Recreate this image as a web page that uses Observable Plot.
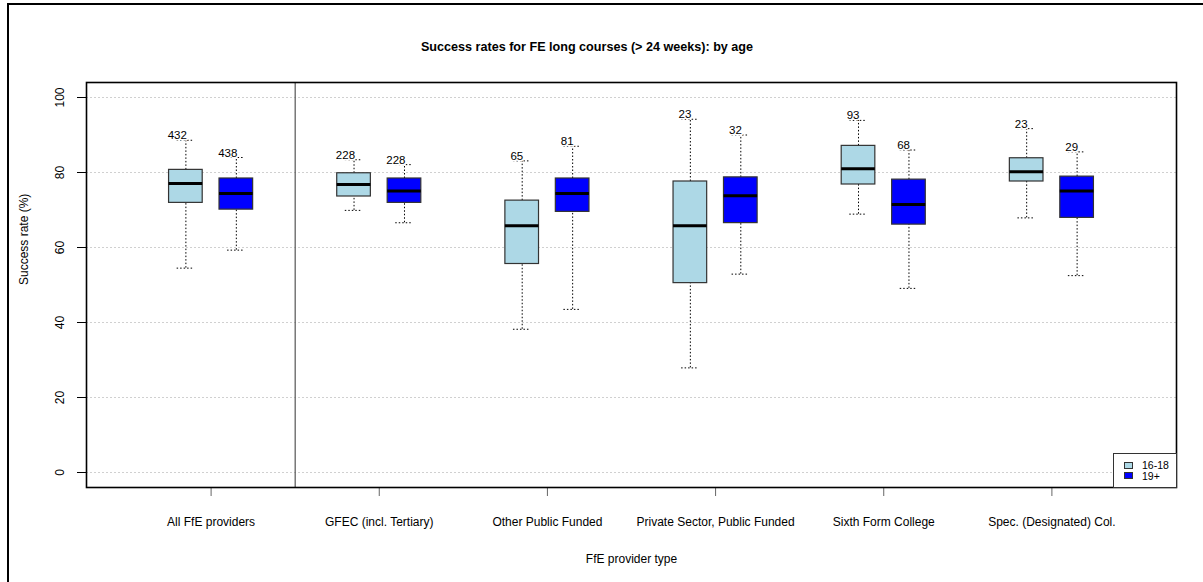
<!DOCTYPE html>
<html>
<head>
<meta charset="utf-8">
<script src="https://cdn.jsdelivr.net/npm/d3@7"></script>
<script src="https://cdn.jsdelivr.net/npm/@observablehq/plot@0.6"></script>
<style>
  html, body { margin: 0; padding: 0; background: #fff; }
  #wrap { position: relative; width: 1203px; height: 582px; overflow: hidden; font-family: "Liberation Sans", Arial, sans-serif; }
  #border { position: absolute; left: 7px; top: 3px; width: 1300px; height: 700px; border-left: 2px solid #000; border-top: 2px solid #000; pointer-events: none; }
  #legend { position: absolute; left: 1113px; top: 453px; width: 62px; height: 33px; border: 1px solid #333; background: #fff; font-size: 10.5px; }
  #legend .row { position: absolute; left: 10px; height: 10px; line-height: 10px; white-space: nowrap; }
  #legend .sw { display: inline-block; width: 7px; height: 5px; border: 1px solid #333; vertical-align: middle; margin-right: 9px; position: relative; top: -1px; }
</style>
</head>
<body>
<div id="wrap"><div id="chart"></div><div id="border"></div><div id="legend"></div></div>
<script>
const title = "Success rates for FE long courses (> 24 weeks): by age";
const xTitle = "FfE provider type";
const yTitle = "Success rate (%)";
const categories = ["All FfE providers", "GFEC (incl. Tertiary)", "Other Public Funded", "Private Sector, Public Funded", "Sixth Form College", "Spec. (Designated) Col."];
const ages = ["16-18", "19+"];
const ageColors = ["#ADD8E6", "#0000FF"];
const yTicks = [0, 20, 40, 60, 80, 100];

// 16-18
const n16   = [432, 228, 65, 23, 93, 23];
const lo16  = [54.5, 69.9, 38.2, 27.9, 68.9, 67.9];
const q1_16 = [71.9, 73.6, 55.6, 50.5, 76.8, 77.6];
const med16 = [77.1, 76.8, 65.8, 65.8, 81.0, 80.2];
const q3_16 = [80.7, 79.8, 72.5, 77.6, 87.1, 83.8];
const hi16  = [88.6, 83.4, 83.1, 94.2, 93.9, 91.7];
// 19+
const n19   = [438, 228, 81, 32, 68, 29];
const lo19  = [59.3, 66.6, 43.5, 52.9, 49.1, 52.5];
const q1_19 = [70.1, 71.9, 69.5, 66.5, 66.1, 67.9];
const med19 = [74.4, 75.1, 74.4, 73.8, 71.5, 75.1];
const q3_19 = [78.4, 78.4, 78.4, 78.7, 78.1, 78.9];
const hi19  = [84.0, 82.1, 87.0, 90.0, 86.0, 85.5];

const series = [
  {n: n16, lo: lo16, q1: q1_16, med: med16, q3: q3_16, hi: hi16},
  {n: n19, lo: lo19, q1: q1_19, med: med19, q3: q3_19, hi: hi19}
];
const offsets = [-0.15, 0.15];
const bw = 0.1, capW = 0.052;
const groups = categories.map((c, i) => i);

const rows = [];
series.forEach((s, k) => {
  categories.forEach((c, i) => {
    rows.push({group: i, age: ages[k], color: ageColors[k], x: i + offsets[k],
      n: s.n[i], lo: s.lo[i], q1: s.q1[i], med: s.med[i], q3: s.q3[i], hi: s.hi[i]});
  });
});
const separators = [0 + 0.5];
const fontSz = 12;

const chart = Plot.plot({
  width: 1203, height: 582,
  marginLeft: 86, marginRight: 27, marginTop: 82, marginBottom: 95,
  style: {fontFamily: '"Liberation Sans", Arial, sans-serif', fontSize: "12px", background: "transparent"},
  x: {type: "linear", domain: [-0.741, 5.741]},
  y: {domain: [-4, 104]},
  marks: [
    Plot.ruleY(yTicks, {stroke: "#d0d0d0", strokeDasharray: "2,2"}),
    Plot.ruleX(separators, {stroke: "#555", strokeWidth: 1.2}),
    Plot.ruleX(rows, {x: "x", y1: "q3", y2: "hi", stroke: "#000", strokeDasharray: "1.5,2"}),
    Plot.ruleX(rows, {x: "x", y1: "lo", y2: "q1", stroke: "#000", strokeDasharray: "1.5,2"}),
    Plot.ruleY(rows, {y: "lo", x1: d => d.x - capW, x2: d => d.x + capW, stroke: "#000", strokeDasharray: "1.5,2"}),
    Plot.ruleY(rows, {y: "hi", x1: d => d.x - capW, x2: d => d.x + capW, stroke: "#000", strokeDasharray: "1.5,2"}),
    Plot.rect(rows, {x1: d => d.x - bw, x2: d => d.x + bw, y1: "q1", y2: "q3", fill: "color", stroke: "#333", strokeWidth: 1.2}),
    Plot.ruleY(rows, {y: "med", x1: d => d.x - bw, x2: d => d.x + bw, stroke: "#000", strokeWidth: 3}),
    Plot.text(rows, {x: "x", y: "hi", text: d => String(d.n), textAnchor: "end", lineAnchor: "bottom", dy: -1, dx: 1, fontSize: 11.5, fill: "#000", stroke: "#fff", strokeWidth: 3}),
    Plot.axisY(yTicks, {tickSize: 9, tickFormat: () => "", label: null, stroke: "#000"}),
    Plot.text(yTicks, {y: d => d, text: d => String(d), frameAnchor: "left", dx: -26, rotate: -90, textAnchor: "middle", lineAnchor: "middle", fontSize: fontSz}),
    Plot.axisX(groups, {tickSize: 9, tickFormat: () => "", label: null, stroke: "#666"}),
    Plot.text(groups, {x: d => d, text: d => categories[d], frameAnchor: "bottom", dy: 34.5, lineAnchor: "middle", fontSize: fontSz}),
    Plot.text([xTitle], {text: d => d, frameAnchor: "bottom", dy: 71.4, lineAnchor: "middle", fontSize: fontSz}),
    Plot.text([yTitle], {text: d => d, frameAnchor: "left", dx: -62, rotate: -90, lineAnchor: "middle", fontSize: fontSz}),
    Plot.text([title], {text: d => d, frameAnchor: "top", dy: -36, dx: -44.5, lineAnchor: "middle", fontWeight: "bold", fontSize: 12.6}),
    Plot.frame({stroke: "#000", strokeWidth: 1.6})
  ]
});
document.getElementById("chart").appendChild(chart);

const legend = document.getElementById("legend");
ages.forEach((a, k) => {
  const row = document.createElement("div");
  row.className = "row";
  row.style.top = (6 + k * 10.5) + "px";
  const sw = document.createElement("span");
  sw.className = "sw";
  sw.style.background = ageColors[k];
  row.appendChild(sw);
  row.appendChild(document.createTextNode(a));
  legend.appendChild(row);
});
</script>
</body>
</html>
